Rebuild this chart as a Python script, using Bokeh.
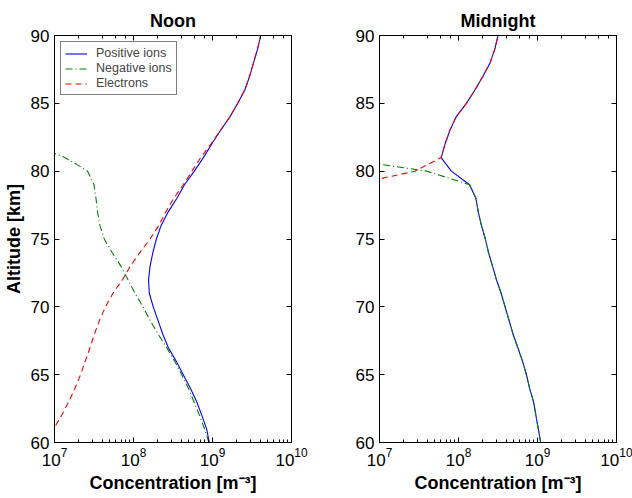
from bokeh.plotting import figure
from bokeh.models import (LinearAxis, LogAxis, SingleIntervalTicker, LogTicker,
                          CustomJSTickFormatter, Legend, LegendItem, Range1d)
from bokeh.layouts import row
from bokeh.embed import file_html
from bokeh.resources import INLINE

# ---------------- data (log10 of concentration in m^-3, altitude in km) -------------
noon_pos_alt = [60, 61, 62, 63, 64, 65, 66, 67, 68, 69, 70, 71, 72, 73, 74, 75,
                76, 77, 78, 79, 80, 81, 82, 83, 84, 85, 86, 87, 88, 89, 90]
noon_pos_log = [8.96, 8.925, 8.865, 8.80, 8.72, 8.63, 8.54, 8.44, 8.37, 8.31, 8.25,
                8.20, 8.19, 8.21, 8.245, 8.29, 8.35, 8.44, 8.55, 8.645, 8.77, 8.885,
                8.99, 9.10, 9.22, 9.32, 9.41, 9.47, 9.52, 9.57, 9.61]

noon_neg_alt = [60, 61, 62, 63, 64, 65, 66, 67, 68, 69, 70, 71, 72, 73, 74, 75,
                76, 77, 78, 79, 80, 80.5, 81, 81.32]
noon_neg_log = [8.955, 8.90, 8.835, 8.765, 8.695, 8.61, 8.52, 8.42, 8.31, 8.21, 8.12,
                8.02, 7.93, 7.84, 7.73, 7.63, 7.575, 7.545, 7.525, 7.50, 7.42, 7.28,
                7.13, 7.0]

noon_ele_alt = [60, 61.1, 62, 63, 64, 65, 66, 67, 68, 69, 70, 71, 72, 73, 74, 75,
                76, 77, 78, 79, 80, 81, 82, 83, 84, 85, 86, 87, 88, 89, 90]
noon_ele_log = [6.88, 7.0, 7.09, 7.18, 7.26, 7.33, 7.39, 7.45, 7.505, 7.57, 7.645,
                7.74, 7.86, 7.96, 8.08, 8.21, 8.32, 8.41, 8.51, 8.63, 8.74, 8.85,
                8.98, 9.10, 9.22, 9.32, 9.41, 9.47, 9.52, 9.57, 9.61]

mid_pos_alt = [60, 61, 62, 63, 64, 65, 66, 67, 68, 69, 70, 71, 72, 73, 74, 75,
               76, 77, 78, 79, 80, 81, 82, 83, 84, 85, 86, 87, 88, 89, 90]
mid_pos_log = [9.04, 9.01, 8.98, 8.95, 8.90, 8.86, 8.81, 8.75, 8.69, 8.64, 8.59,
               8.54, 8.48, 8.43, 8.38, 8.34, 8.29, 8.25, 8.22, 8.14, 7.91, 7.78,
               7.83, 7.89, 7.97, 8.10, 8.21, 8.31, 8.40, 8.46, 8.50]

mid_neg_alt = [60, 61, 62, 63, 64, 65, 66, 67, 68, 69, 70, 71, 72, 73, 74, 75,
               76, 77, 78, 79, 80, 81]
mid_neg_log = [9.04, 9.01, 8.98, 8.95, 8.90, 8.86, 8.81, 8.75, 8.69, 8.64, 8.59,
               8.54, 8.48, 8.43, 8.38, 8.34, 8.29, 8.25, 8.22, 8.14, 7.60, 6.42]

mid_ele_alt = [79, 80, 81, 82, 83, 84, 85, 86, 87, 88, 89, 90]
mid_ele_log = [6.66, 7.45, 7.78, 7.83, 7.89, 7.97, 8.10, 8.21, 8.31, 8.40, 8.46, 8.50]

series_labels = ["Positive ions", "Negative ions", "Electrons"]
series_colors = ["#0000ff", "#008000", "#ff0000"]
series_dash = ["solid", "7 3 1 3", "6 4"]

FONT = "Liberation Sans"


def to_conc(logs):
    return [10 ** v for v in logs]


def style_axis(ax, labels=True):
    ax.axis_line_color = "black"
    ax.axis_line_width = 1
    ax.major_tick_in = 5
    ax.major_tick_out = 0
    ax.minor_tick_in = 3
    ax.minor_tick_out = 0
    ax.major_tick_line_color = "black"
    ax.minor_tick_line_color = "black"
    ax.major_label_text_font = FONT
    ax.major_label_text_font_size = "17px"
    ax.major_label_text_color = "black"
    ax.major_label_standoff = 5
    ax.axis_label_text_font = FONT
    ax.axis_label_text_font_size = "18px"
    ax.axis_label_text_font_style = "bold"
    ax.axis_label_text_color = "black"
    ax.axis_label_standoff = 4
    if not labels:
        ax.formatter = CustomJSTickFormatter(code="return ''")
        ax.major_label_standoff = 0
        ax.major_label_text_font_size = "1px"
        ax.axis_label_standoff = 0


def make_fig(title, width, bl, br, ylabel, data):
    p = figure(width=width, height=498, x_axis_type="log",
               x_range=Range1d(1e7, 1e10), y_range=Range1d(60, 90),
               output_backend="svg", toolbar_location=None,
               min_border_left=bl, min_border_right=br,
               min_border_top=35, min_border_bottom=56,
               background_fill_color="white", border_fill_color="white")
    p.outline_line_color = None
    p.xgrid.visible = False
    p.ygrid.visible = False
    p.title.text = title
    p.title.align = "center"
    p.title.text_font = FONT
    p.title.text_font_size = "18px"
    p.title.text_font_style = "bold"
    p.title.text_color = "black"
    p.title.standoff = 10

    yt = SingleIntervalTicker(interval=5, num_minor_ticks=0)
    p.yaxis.ticker = yt
    style_axis(p.xaxis[0])
    style_axis(p.yaxis[0])
    p.yaxis.minor_tick_line_color = None
    p.xaxis.axis_label = "Concentration [m\u207b\u00b3]"
    if ylabel:
        p.yaxis.axis_label = ylabel

    top = LogAxis(ticker=LogTicker())
    style_axis(top, labels=False)
    p.add_layout(top, "above")
    right = LinearAxis(ticker=SingleIntervalTicker(interval=5, num_minor_ticks=0))
    style_axis(right, labels=False)
    right.minor_tick_line_color = None
    p.add_layout(right, "right")

    rends = []
    for (alts, logs), lab, col, dash in zip(data, series_labels, series_colors, series_dash):
        r = p.line(to_conc(logs), alts, line_color=col, line_width=1.1, line_dash=dash)
        rends.append(r)
    return p, rends


p1, r1 = make_fig("Noon", 316, 54, 25, "Altitude [km]",
                  [(noon_pos_alt, noon_pos_log), (noon_neg_alt, noon_neg_log),
                   (noon_ele_alt, noon_ele_log)])
p2, r2 = make_fig("Midnight", 316, 63, 16, None,
                  [(mid_pos_alt, mid_pos_log), (mid_neg_alt, mid_neg_log),
                   (mid_ele_alt, mid_ele_log)])

legend = Legend(items=[LegendItem(label=l, renderers=[r]) for l, r in zip(series_labels, r1)],
                location="top_left", margin=6, padding=4, spacing=1,
                label_height=13, glyph_height=13, glyph_width=22, label_standoff=9,
                label_text_font=FONT, label_text_font_size="12.5px",
                border_line_color="black", border_line_width=1.3,
                background_fill_color="white", background_fill_alpha=1.0)
p1.add_layout(legend)

layout = row(p1, p2)
open("out.html", "w").write(file_html(layout, INLINE))
